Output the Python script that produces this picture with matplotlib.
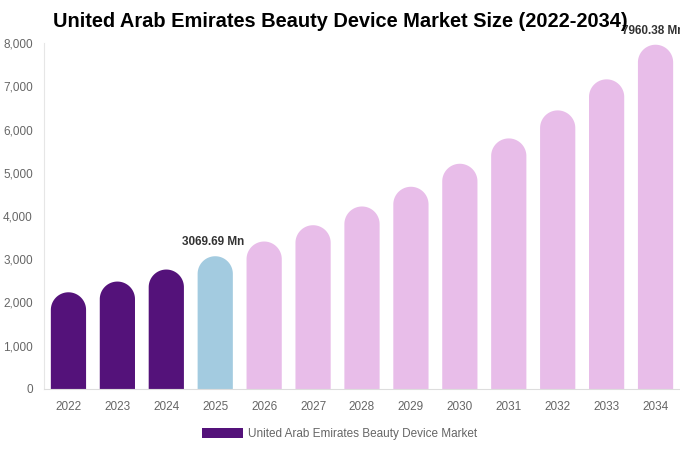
import numpy as np
import matplotlib.pyplot as plt
from matplotlib.patches import Polygon, Patch

plt.rcParams['font.family'] = ['Liberation Sans', 'DejaVu Sans']

# --- datos ---
years = ['2022', '2023', '2024', '2025', '2026', '2027', '2028',
         '2029', '2030', '2031', '2032', '2033', '2034']
values = [2236, 2484, 2762, 3069.69, 3410, 3787, 4220,
          4676, 5208, 5794, 6442, 7160, 7960.38]
labels = {3: '3069.69 Mn', 12: '7960.38 Mn'}
yticks = [0, 1000, 2000, 3000, 4000, 5000, 6000, 7000, 8000]

HIST = '#54127a'
BASE = '#a3cbe0'
FCST = '#e8bde9'
colors = [HIST] * 3 + [BASE] + [FCST] * 9

fig = plt.figure(figsize=(6.8, 4.5), dpi=100)
ax = fig.add_axes([0.0647, 0.1356, 0.9353, 0.7688])
ax.set_xlim(-0.5, 12.5)
ax.set_ylim(0, 8000)

# barras con la parte de arriba redondeada (un solo poligono por barra)
w = 0.72
ax_w_px = 0.9353 * 680
ax_h_px = 0.7688 * 450
px_x = ax_w_px / 13
px_y = ax_h_px / 8000
ry = (w / 2) * px_x / px_y
t = np.linspace(0, np.pi, 60)
for i, (v, c) in enumerate(zip(values, colors)):
    arc_x = i + (w / 2) * np.cos(t)
    arc_y = (v - ry) + ry * np.sin(t)
    xs = np.concatenate([[i + w / 2], arc_x, [i - w / 2]])
    ys = np.concatenate([[0], arc_y, [0]])
    ax.add_patch(Polygon(np.column_stack([xs, ys]), closed=True,
                         facecolor=c, edgecolor='none'))

for i, txt in labels.items():
    ax.text(i - 0.05, values[i] + 190, txt, ha='center', va='bottom',
            fontsize=8.5, fontweight='bold', color='#333333', clip_on=False)

ax.set_xticks(range(len(years)))
ax.set_xticklabels(years)
ax.set_yticks(yticks)
ax.set_yticklabels([f'{t:,}' for t in yticks])
ax.tick_params(length=0, labelsize=8.5, labelcolor='#666666')
ax.tick_params(axis='x', pad=9)
ax.tick_params(axis='y', pad=8)
for s in ['top', 'right']:
    ax.spines[s].set_visible(False)
ax.spines['left'].set_color('#e6e6e6')
ax.spines['bottom'].set_color('#dddddd')

fig.text(0.5, 0.952, 'United Arab Emirates Beauty Device Market Size (2022-2034)',
         ha='center', va='center', fontsize=14.4, fontweight='bold', color='#000000')

fig.legend(handles=[Patch(facecolor=HIST, edgecolor='none')],
           labels=['United Arab Emirates Beauty Device Market'],
           loc='center', bbox_to_anchor=(0.5, 0.036), frameon=False,
           fontsize=8.5, labelcolor='#666666', handlelength=3.4, handleheight=0.9,
           handletextpad=0.5)

fig.savefig('out.png', dpi=100)
